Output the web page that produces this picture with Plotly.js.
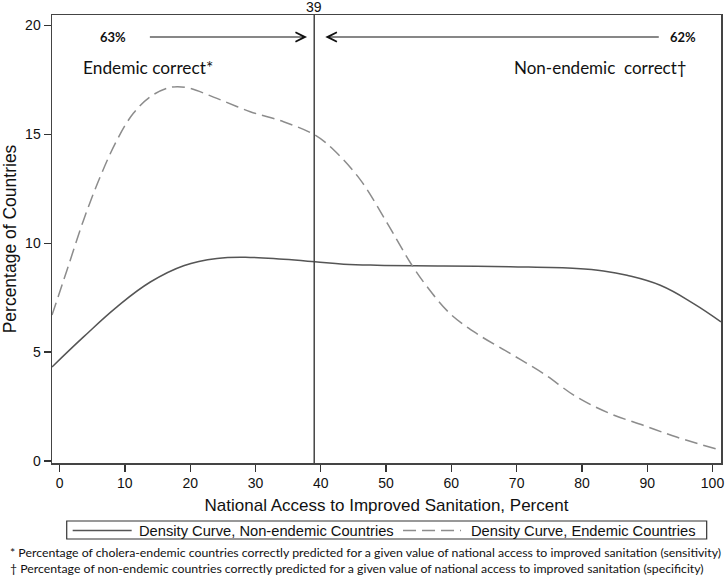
<!DOCTYPE html>
<html>
<head>
<meta charset="utf-8">
<script src="https://cdn.plot.ly/plotly-3.0.1.min.js"></script>
<style>html,body{margin:0;padding:0;background:#fff;}#chart{width:725px;height:578px;}</style>
</head>
<body>
<div id="chart"></div>
<script>
// Data
const nonEndemicX = [-1.16, 3.67, 8.79, 13.9, 19.0, 24.1, 29.2, 34.3, 39.1, 43.5, 48.6, 58.8, 69.0, 79.2, 83.3, 86.9, 92.0, 97.1, 101.3];
const nonEndemicY = [4.32, 5.70, 7.08, 8.22, 8.97, 9.30, 9.35, 9.26, 9.15, 9.04, 8.99, 8.96, 8.92, 8.84, 8.73, 8.53, 8.07, 7.23, 6.39];
const endemicX = [-1.16, 1.13, 3.67, 6.22, 8.79, 11.3, 13.9, 16.4, 18.0, 20.0, 24.1, 29.2, 34.3, 39.1, 42.0, 46.1, 50.2, 53.8, 56.3, 59.8, 63.9, 69.0, 74.1, 79.2, 84.3, 89.4, 94.5, 101.3];
const endemicY = [6.70, 8.76, 11.06, 13.05, 14.74, 15.97, 16.73, 17.11, 17.19, 17.11, 16.65, 16.04, 15.58, 14.97, 14.28, 12.90, 10.91, 9.07, 8.00, 6.77, 5.85, 4.94, 4.02, 2.94, 2.18, 1.64, 1.10, 0.49];
const cutoff = 39;
const sensitivityLabel = '63%';
const specificityLabel = '62%';
const xTicks = [0, 10, 20, 30, 40, 50, 60, 70, 80, 90, 100];
const yTicks = [0, 5, 10, 15, 20];
const seriesNames = ['Density Curve, Non-endemic Countries', 'Density Curve, Endemic Countries'];
const footnotes = [
  '* Percentage of cholera-endemic countries correctly predicted for a given value of national access to improved sanitation (sensitivity)',
  '\u2020 Percentage of non-endemic countries correctly predicted for a given value of national access to improved sanitation (specificity)'
];

const AR = '"Liberation Sans", Arial, sans-serif';
const CAL = 'Lato, "Open Sans", sans-serif';
const solidColor = '#555555';
const dashColor = '#8c8c8c';
const dashPattern = '13px,6px';

const traces = [
  {x: nonEndemicX, y: nonEndemicY, name: seriesNames[0], type: 'scatter', mode: 'lines', showlegend: false,
   line: {color: solidColor, width: 1.5, shape: 'spline', smoothing: 1.2}},
  {x: endemicX, y: endemicY, name: seriesNames[1], type: 'scatter', mode: 'lines', showlegend: false,
   line: {color: dashColor, width: 1.5, dash: dashPattern, shape: 'spline', smoothing: 1}}
];

// legend drawn as a framed key under the x-axis title
const legY = -0.1507;
const layout = {
  width: 725, height: 578,
  margin: {l: 52, r: 4, t: 15, b: 115, pad: 0},
  paper_bgcolor: '#ffffff', plot_bgcolor: '#ffffff',
  font: {family: AR, size: 14, color: '#111111'},
  xaxis: {
    range: [-1.16, 101.3], tickvals: xTicks, ticktext: xTicks.map(String),
    ticks: 'outside', ticklen: 7, tickwidth: 1.3, tickcolor: '#333',
    showline: true, mirror: true, linecolor: '#444', linewidth: 1.5,
    showgrid: false, zeroline: false,
    tickfont: {family: AR, size: 14, color: '#111'},
    title: {text: 'National Access to Improved Sanitation, Percent', font: {family: AR, size: 17, color: '#111'}, standoff: 9}
  },
  yaxis: {
    range: [-0.09, 20.48], tickvals: yTicks, ticktext: yTicks.map(String),
    ticks: 'outside', ticklen: 7, tickwidth: 1.3, tickcolor: '#333',
    showline: true, mirror: true, linecolor: '#444', linewidth: 1.5,
    showgrid: false, zeroline: false,
    tickfont: {family: AR, size: 14, color: '#111'},
    title: {text: 'Percentage of Countries', font: {family: AR, size: 17.5, color: '#111'}, standoff: 6}
  },
  showlegend: false,
  shapes: [
    {type: 'line', xref: 'x', yref: 'paper', x0: cutoff, x1: cutoff, y0: 0, y1: 1,
     line: {color: '#444', width: 1.5}},
    // key frame and samples
    {type: 'rect', xref: 'paper', yref: 'paper', x0: 0.022, x1: 0.9786, y0: -0.1696, y1: -0.1295,
     line: {color: '#333', width: 1.2}, fillcolor: 'rgba(0,0,0,0)'},
    {type: 'line', xref: 'paper', yref: 'paper', x0: 0.0309, x1: 0.1191, y0: legY, y1: legY,
     line: {color: solidColor, width: 1.5}},
    {type: 'line', xref: 'paper', yref: 'paper', x0: 0.5247, x1: 0.6114, y0: legY, y1: legY,
     line: {color: dashColor, width: 1.5, dash: dashPattern}}
  ],
  annotations: [
    {xref: 'x', yref: 'paper', x: cutoff, y: 1, yanchor: 'bottom', text: String(cutoff), showarrow: false,
     font: {family: AR, size: 14, color: '#111'}, yshift: -2},
    // arrows
    {xref: 'x', yref: 'y', axref: 'x', ayref: 'y', x: 37.9, y: 19.47, ax: 13.6, ay: 19.47, text: '',
     showarrow: true, arrowhead: 5, arrowsize: 1.7, arrowwidth: 1.1, arrowcolor: '#111', standoff: 0, startstandoff: 0},
    {xref: 'x', yref: 'y', axref: 'x', ayref: 'y', x: 40.7, y: 19.47, ax: 92.0, ay: 19.47, text: '',
     showarrow: true, arrowhead: 5, arrowsize: 1.7, arrowwidth: 1.1, arrowcolor: '#111', standoff: 0, startstandoff: 0},
    {xref: 'x', yref: 'y', x: 8.2, y: 19.47, text: '<b>' + sensitivityLabel + '</b>', showarrow: false,
     font: {family: CAL, size: 13, color: '#111'}},
    {xref: 'x', yref: 'y', x: 95.5, y: 19.47, text: '<b>' + specificityLabel + '</b>', showarrow: false,
     font: {family: CAL, size: 13, color: '#111'}},
    {xref: 'x', yref: 'y', x: 13.6, y: 18.09, text: 'Endemic correct*', showarrow: false,
     font: {family: CAL, size: 17.3, color: '#111'}},
    {xref: 'x', yref: 'y', x: 82.8, y: 18.09, text: 'Non-endemic&nbsp; correct\u2020', showarrow: false,
     font: {family: CAL, size: 17, color: '#111'}},
    // key labels
    {xref: 'paper', yref: 'paper', x: 0.1275, y: legY, xanchor: 'left', yanchor: 'middle', text: seriesNames[0], showarrow: false,
     font: {family: AR, size: 14.7, color: '#111'}},
    {xref: 'paper', yref: 'paper', x: 0.6233, y: legY, xanchor: 'left', yanchor: 'middle', text: seriesNames[1], showarrow: false,
     font: {family: AR, size: 14.7, color: '#111'}},
    // footnotes
    {xref: 'paper', yref: 'paper', x: -0.0658, y: -0.1987, xanchor: 'left', yanchor: 'middle', text: footnotes[0], showarrow: false,
     font: {family: CAL, size: 12.3, color: '#111'}},
    {xref: 'paper', yref: 'paper', x: -0.0658, y: -0.235, xanchor: 'left', yanchor: 'middle', text: footnotes[1], showarrow: false,
     font: {family: CAL, size: 12.3, color: '#111'}}
  ]
};

Plotly.newPlot('chart', traces, layout, {displayModeBar: false, staticPlot: true});
</script>
</body>
</html>
